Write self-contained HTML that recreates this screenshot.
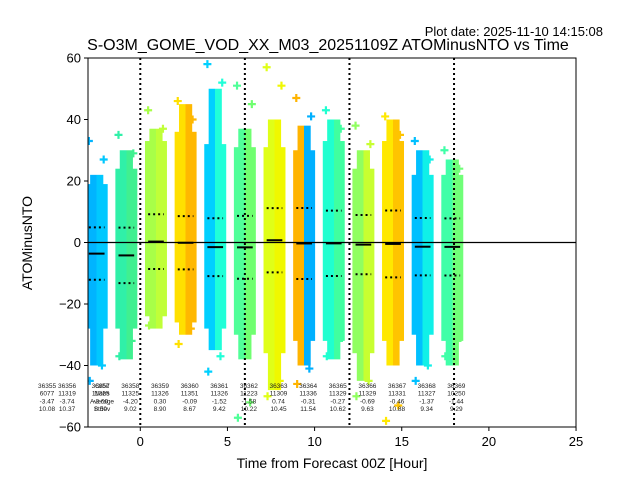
<!DOCTYPE html>
<html><head><meta charset="utf-8"><style>
body{margin:0;background:#fff}
svg{display:block;font-family:"Liberation Sans","DejaVu Sans",sans-serif}
</style></head><body>
<svg id="chart" width="640" height="480" xmlns="http://www.w3.org/2000/svg">
<defs id="defs"></defs>
<text x="603" y="36" font-size="13" text-anchor="end">Plot date: 2025-11-10 14:15:08</text>
<text x="328" y="50" font-size="16" text-anchor="middle">S-O3M_GOME_VOD_XX_M03_20251109Z ATOMinusNTO vs Time</text>
<g id="plot"></g>
<rect x="88" y="58" width="488" height="369" fill="none" stroke="#000" stroke-width="1"/>
<text x="332" y="468" font-size="14" text-anchor="middle">Time from Forecast 00Z [Hour]</text>
<text x="32" y="243" font-size="14" text-anchor="middle" transform="rotate(-90 32 243)">ATOMinusNTO</text>
</svg>
<script>
const orbits=[36357,36358,36359,36360,36361,36362,36363,36364,36365,36366,36367,36368,36369];
const nobs=[11325,11325,11326,11351,11326,11223,11309,11336,11329,11329,11331,11327,10250];
const means=[-3.6,-4.20,0.30,-0.09,-1.52,-1.58,0.74,-0.31,-0.27,-0.69,-0.46,-1.37,-1.44];
const stds=[8.5,9.02,8.90,8.67,9.42,10.22,10.45,11.54,10.62,9.63,10.88,9.34,9.29];
const maxs=[22,30,37,45,50,37,40,38,40,30,40,30,27];
const mins=[-40,-38,-28,-30,-35,-38,-48,-40,-38,-45,-40,-40,-40];
const denseHi=[19,24,33,36,32,31,31,30,33,24,33,22,22];
const denseLo=[-28,-28,-24,-26,-28,-30,-36,-32,-32,-36,-32,-30,-32];
const outHi=[33,35,43,46,58,51,57,47,43,38,41,33,30];
const outLo=[-45,-37,-27,-33,-42,-57,-50,-46,-37,-50,-58,-45,-37];
const centers=[-2.5,-0.8,0.9,2.6,4.3,6.0,7.7,9.4,11.1,12.8,14.5,16.2,17.9];
const colL=["#00b4ff","#30f0a8","#a8ff48","#ffe000","#00d0ff","#50ff98","#e0ff18","#ffb400","#20ffd0","#90ff60","#ffe800","#00c0ff","#40ffa8"];
const colR=["#00c8ff","#40f090","#c0ff38","#ffb800","#20ffd8","#70ff70","#f0f800","#00b0ff","#40ffa0","#c8ff30","#ffc400","#10f0e8","#70ff78"];
const extraOrbits=[36355,36356];
const extraNobs=[6077,11319];
const extraMeans=[-3.47,-3.74];
const extraStds=[10.08,10.37];
const extraCenters=[-5.58,-4.43];
const xTicks=[0,5,10,15,20,25];
const yTicks=[60,40,20,0,-20,-40,-60];
const vLines=[0,6,12,18];

const NS="http://www.w3.org/2000/svg";
const xs=v=>88+(v+3)*17.43;
const ys=v=>242.5-v*3.075;
const svg=document.getElementById('chart');
const plot=document.getElementById('plot');
const defs=document.getElementById('defs');
function mk(tag,attrs,parent){const e=document.createElementNS(NS,tag);for(const k in attrs)e.setAttribute(k,attrs[k]);(parent||plot).appendChild(e);return e;}
const clip=mk('clipPath',{id:'clipA'},defs);mk('rect',{x:88,y:58,width:488,height:369},clip);
const g=mk('g',{'clip-path':'url(#clipA)'});
function cross(cx,cy,c){const p=mk('path',{d:`M${cx-4},${cy}h8M${cx},${cy-4}v8`,stroke:c,'stroke-width':2.2},g);

}
centers.forEach((c,i)=>{
 const gr=mk('linearGradient',{id:'gr'+i,x1:0,x2:1,y1:0,y2:0},defs);
 mk('stop',{offset:'0','stop-color':colL[i]},gr);mk('stop',{offset:'0.5','stop-color':colL[i]},gr);
 mk('stop',{offset:'0.5','stop-color':colR[i]},gr);mk('stop',{offset:'1','stop-color':colR[i]},gr);
 const x0=xs(c-0.63),w=xs(c+0.63)-x0;
 const r2=mk('rect',{x:x0+w*0.2,y:ys(maxs[i]),width:w*0.6,height:ys(mins[i])-ys(maxs[i]),fill:`url(#gr${i})`},g);
 
 
 const r=mk('rect',{x:x0,y:ys(denseHi[i]),width:w,height:ys(denseLo[i])-ys(denseHi[i]),fill:`url(#gr${i})`},g);
 
 
 cross(xs(c-0.45),ys(outHi[i]),colL[i]);
 cross(xs(c+0.4),ys(outHi[i]-6),colR[i]);
 cross(xs(c-0.4),ys(outLo[i]),colL[i]);
 cross(xs(c+0.3),ys(outLo[i]+5),colR[i]);
});
const z=mk('line',{x1:88,x2:576,y1:ys(0),y2:ys(0),stroke:'#000','stroke-width':1.2});


vLines.forEach(v=>{const l=mk('line',{x1:xs(v),x2:xs(v),y1:58,y2:427,stroke:'#000','stroke-width':2,'stroke-dasharray':'2,3'});

});
centers.forEach((c,i)=>{
 const a=xs(c-0.45),b=xs(c+0.45);
 const m=mk('line',{x1:a,x2:b,y1:ys(means[i]),y2:ys(means[i]),stroke:'#000','stroke-width':2});
 
 
 [means[i]+stds[i],means[i]-stds[i]].forEach(v=>{
  const d=mk('line',{x1:a,x2:b,y1:ys(v),y2:ys(v),stroke:'#000','stroke-width':2,'stroke-dasharray':'2,3'});
  
  });
});
function stat(cx,o,n,m,s){
 [String(o),String(n),m.toFixed(2),s.toFixed(2)].forEach((t,k)=>{
  const e=mk('text',{x:cx,y:388+k*7.7,'font-size':6.5,'text-anchor':'middle',fill:'#222'},svg);
  e.textContent=t;
  
  });
}
extraCenters.forEach((c,i)=>stat(xs(c)+4,extraOrbits[i],extraNobs[i],extraMeans[i],extraStds[i]));
centers.forEach((c,i)=>stat(xs(c)+4,orbits[i],nobs[i],means[i],stds[i]));
['Orbit','Nobs','Average','Stdev'].forEach((t,k)=>{const e=mk('text',{x:102,y:388+k*7.7,'font-size':6.5,'text-anchor':'middle',fill:'#222'},svg);
 e.textContent=t;
 
 });
xTicks.forEach(v=>{mk('line',{x1:xs(v),x2:xs(v),y1:427,y2:431,stroke:'#000'},svg);
 const t=mk('text',{x:xs(v),y:446,'font-size':13,'text-anchor':'middle'},svg);t.textContent=v;
 
 });
yTicks.forEach(v=>{mk('line',{x1:84,x2:88,y1:ys(v),y2:ys(v),stroke:'#000'},svg);
 const t=mk('text',{x:81,y:ys(v)+4.5,'font-size':13,'text-anchor':'end'},svg);t.textContent=v<0?'\u2212'+(-v):v;
 
 });
</script>
</body></html>
